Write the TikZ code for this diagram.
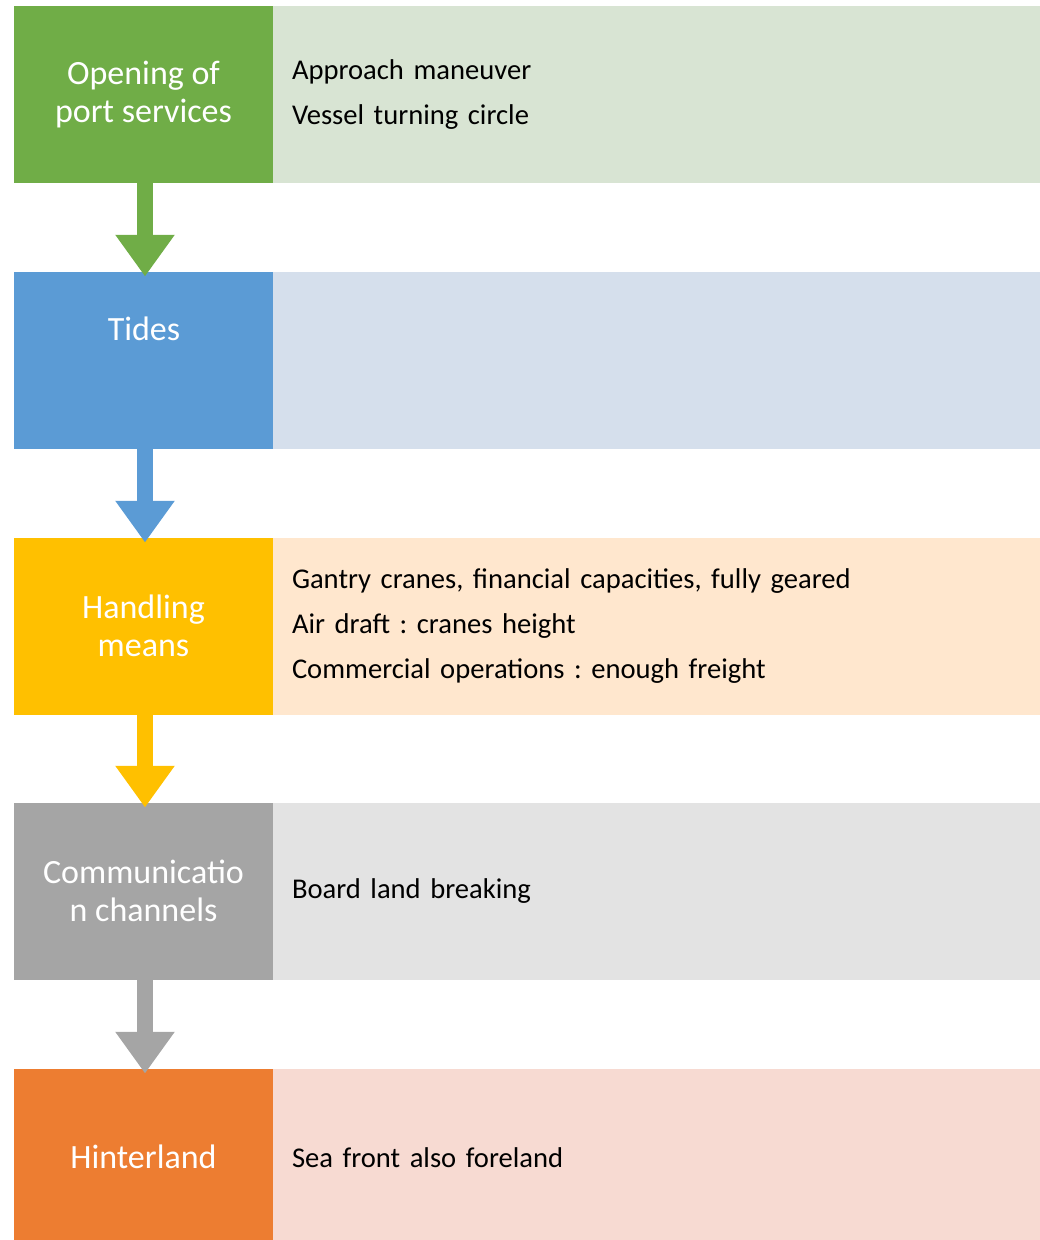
\documentclass[tikz,border=0pt]{standalone}
\usepackage{fontspec}
\setmainfont{Carlito}
\usetikzlibrary{arrows.meta}
\frenchspacing

\definecolor{grDark}{HTML}{70AD47}
\definecolor{grLight}{HTML}{D8E4D3}
\definecolor{blDark}{HTML}{5B9BD5}
\definecolor{blLight}{HTML}{D5DFEC}
\definecolor{goDark}{HTML}{FFC000}
\definecolor{goLight}{HTML}{FFE7CE}
\definecolor{gyDark}{HTML}{A5A5A5}
\definecolor{gyLight}{HTML}{E3E3E3}
\definecolor{orDark}{HTML}{ED7D31}
\definecolor{orLight}{HTML}{F7DAD2}

\tikzset{
  headbox/.style={rectangle, inner sep=0pt, minimum width=259pt, minimum height=176.5pt,
    text=white, align=center, font=\fontsize{34}{38}\selectfont},
  headtext/.style={inner sep=0pt, text=white, align=center, font=\fontsize{34}{38}\selectfont},
  itembox/.style={rectangle, inner xsep=19pt, inner ysep=0pt, text width=729pt,
    minimum height=176.5pt, align=left, font=\fontsize{28.6}{45}\selectfont},
  flowarrow/.style={line width=15.5pt, -{Triangle[width=56.6pt,length=41.7pt]}}
}

\begin{document}
\begin{tikzpicture}[x=1pt,y=-1pt]
\useasboundingbox (0,0) rectangle (1040,1240);

% left column
\node[headbox, fill=grDark] (open) at (143.5,94.25) {Opening of\\port services};
\node[headbox, fill=blDark] (tides) at (143.5,360.25) {};
\node[headtext] (tidestxt) at (144,329) {Tides};
\node[headbox, fill=goDark] (handling) at (143.5,626.25) {Handling\\means};
\node[headbox, fill=gyDark] (comm) at (143.5,891.25) {Communicatio\\n channels};
\node[headbox, fill=orDark] (hinter) at (143.5,1157.25) {Hinterland};

% right column
\node[itembox, fill=grLight] (openitems) at (656.5,94.25) {Approach maneuver\\Vessel turning circle};
\node[itembox, fill=blLight] (tidesitems) at (656.5,360.25) {};
\node[itembox, fill=goLight] (handlingitems) at (656.5,626.25)
  {Gantry cranes, financial capacities, fully geared\\Air draft : cranes height\\Commercial operations : enough freight};
\node[itembox, fill=gyLight] (commitems) at (656.5,891.25) {Board land breaking};
\node[itembox, fill=orLight] (hinteritems) at (656.5,1157.25) {Sea front also foreland};

% arrows
\draw[flowarrow, grDark] ([xshift=1.5pt]open.south) -- ([xshift=1.5pt,yshift=-4.7pt]tides.north);
\draw[flowarrow, blDark] ([xshift=1.5pt]tides.south) -- ([xshift=1.5pt,yshift=-4.7pt]handling.north);
\draw[flowarrow, goDark] ([xshift=1.5pt]handling.south) -- ([xshift=1.5pt,yshift=-4.7pt]comm.north);
\draw[flowarrow, gyDark] ([xshift=1.5pt]comm.south) -- ([xshift=1.5pt,yshift=-4.7pt]hinter.north);
\end{tikzpicture}
\end{document}
